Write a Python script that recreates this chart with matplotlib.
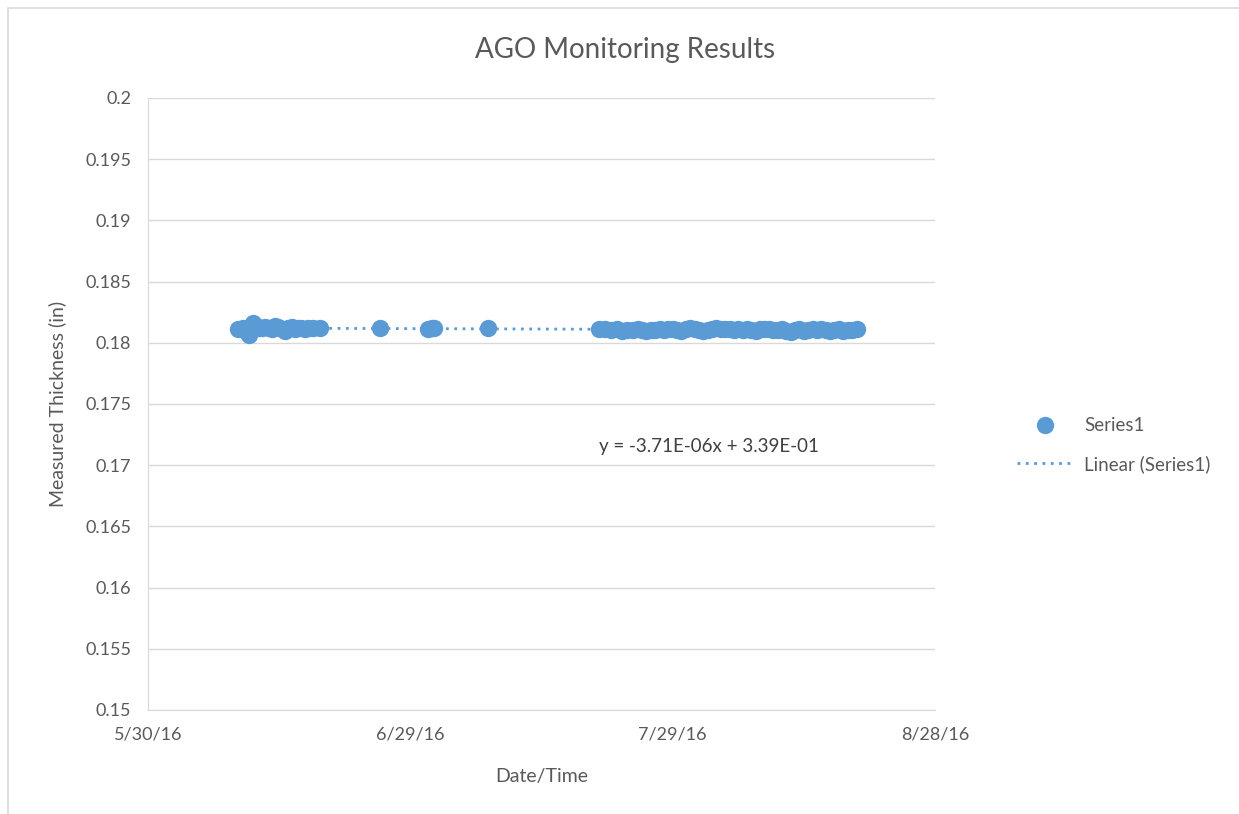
import matplotlib.pyplot as plt
import matplotlib.dates as mdates
import numpy as np
import pandas as pd
from matplotlib.patches import Rectangle

# --- Data ---
dates = [
    "2016-06-09 06:00", "2016-06-09 14:00", "2016-06-09 22:00", "2016-06-10 06:00",
    "2016-06-10 14:00", "2016-06-10 23:00", "2016-06-11 08:00", "2016-06-11 16:00",
    "2016-06-12 01:00", "2016-06-12 10:00", "2016-06-12 19:00", "2016-06-13 04:00",
    "2016-06-13 13:00", "2016-06-13 22:00", "2016-06-14 07:00", "2016-06-14 16:00",
    "2016-06-15 01:00", "2016-06-15 10:00", "2016-06-15 19:00", "2016-06-16 04:00",
    "2016-06-16 13:00", "2016-06-16 22:00", "2016-06-17 08:00", "2016-06-17 20:00",
    "2016-06-18 16:00",
    "2016-06-25 12:00", "2016-07-01 00:00", "2016-07-01 12:00", "2016-07-01 16:00",
    "2016-07-07 20:00",
    "2016-07-20 14:00", "2016-07-21 06:00", "2016-07-21 22:00", "2016-07-22 14:00",
    "2016-07-23 06:00", "2016-07-23 20:00", "2016-07-24 10:00", "2016-07-25 00:00",
    "2016-07-25 12:00", "2016-07-26 00:00", "2016-07-26 12:00", "2016-07-27 00:00",
    "2016-07-27 12:00", "2016-07-28 00:00", "2016-07-28 12:00", "2016-07-29 00:00",
    "2016-07-29 12:00", "2016-07-30 00:00", "2016-07-30 12:00", "2016-07-31 00:00",
    "2016-07-31 12:00", "2016-08-01 00:00", "2016-08-01 12:00", "2016-08-02 00:00",
    "2016-08-02 12:00", "2016-08-03 00:00", "2016-08-03 12:00", "2016-08-04 00:00",
    "2016-08-04 12:00", "2016-08-05 00:00", "2016-08-05 12:00", "2016-08-06 00:00",
    "2016-08-06 12:00", "2016-08-07 00:00", "2016-08-07 12:00", "2016-08-08 00:00",
    "2016-08-08 12:00", "2016-08-09 00:00", "2016-08-09 12:00", "2016-08-10 00:00",
    "2016-08-10 12:00", "2016-08-11 00:00", "2016-08-11 12:00", "2016-08-12 00:00",
    "2016-08-12 12:00", "2016-08-13 00:00", "2016-08-13 12:00", "2016-08-14 00:00",
    "2016-08-14 12:00", "2016-08-15 00:00", "2016-08-15 12:00", "2016-08-16 00:00",
    "2016-08-16 12:00", "2016-08-17 00:00", "2016-08-17 12:00", "2016-08-18 00:00",
    "2016-08-18 12:00", "2016-08-19 02:00",
]
thickness = [
    0.18112, 0.18115, 0.18120, 0.18098, 0.18060, 0.18165, 0.18140, 0.18125,
    0.18118, 0.18130, 0.18122, 0.18115, 0.18140, 0.18128, 0.18110, 0.18100,
    0.18125, 0.18130, 0.18112, 0.18118, 0.18125, 0.18115, 0.18120, 0.18118,
    0.18120,
    0.18122, 0.18110, 0.18125, 0.18120,
    0.18118,
    0.18115, 0.18110, 0.18105, 0.18112, 0.18100, 0.18108, 0.18102, 0.18110,
    0.18105, 0.18100, 0.18108, 0.18102, 0.18110, 0.18105, 0.18112, 0.18115,
    0.18108, 0.18100, 0.18112, 0.18118, 0.18110, 0.18105, 0.18095, 0.18102,
    0.18110, 0.18125, 0.18115, 0.18110, 0.18112, 0.18108, 0.18110, 0.18105,
    0.18112, 0.18108, 0.18100, 0.18110, 0.18115, 0.18112, 0.18108, 0.18105,
    0.18110, 0.18098, 0.18092, 0.18102, 0.18110, 0.18095, 0.18108, 0.18110,
    0.18105, 0.18112, 0.18108, 0.18100, 0.18105, 0.18110, 0.18100, 0.18105,
    0.18108, 0.18110,
]
x_ticks = ["2016-05-30", "2016-06-29", "2016-07-29", "2016-08-28"]
x_tick_labels = ["5/30/16", "6/29/16", "7/29/16", "8/28/16"]
y_ticks = [0.15, 0.155, 0.16, 0.165, 0.17, 0.175, 0.18, 0.185, 0.19, 0.195, 0.2]
y_tick_labels = ["0.15", "0.155", "0.16", "0.165", "0.17", "0.175", "0.18",
                 "0.185", "0.19", "0.195", "0.2"]
trend_label = "y = -3.71E-06x + 3.39E-01"

BLUE = "#5B9BD5"
GREY = "#595959"

plt.rcParams["font.family"] = ["Lato", "DejaVu Sans"]

t = pd.to_datetime(dates)
xnum = mdates.date2num(t)

fig = plt.figure(figsize=(12.39, 8.14), dpi=100)
ax = fig.add_axes([148 / 1239, 104 / 814, 787 / 1239, 612 / 814])

ax.plot(t, thickness, "o", color=BLUE, markersize=12.5, markeredgewidth=0,
        label="Series1", zorder=3)

# linear trendline
slope, icpt = np.polyfit(xnum, thickness, 1)
xl = np.array([xnum.min(), xnum.max()])
ax.plot(mdates.num2date(xl), slope * xl + icpt, linestyle=(0, (1, 2)),
        color=BLUE, linewidth=2, label="Linear (Series1)", zorder=2)

ax.set_xlim(pd.Timestamp(x_ticks[0]), pd.Timestamp(x_ticks[-1]))
ax.set_ylim(y_ticks[0], y_ticks[-1])
ax.set_xticks(pd.to_datetime(x_ticks))
ax.set_xticklabels(x_tick_labels)
ax.set_yticks(y_ticks)
ax.set_yticklabels(y_tick_labels)
ax.tick_params(length=0, labelsize=13, colors=GREY, pad=12)
ax.grid(axis="y", color="#D9D9D9", linewidth=1)
ax.set_axisbelow(True)
for s in ["top", "right"]:
    ax.spines[s].set_visible(False)
for s in ["left", "bottom"]:
    ax.spines[s].set_color("#D9D9D9")

ax.set_xlabel("Date/Time", fontsize=14, color=GREY, labelpad=18)
ax.set_ylabel("Measured Thickness (in)", fontsize=14, color=GREY, labelpad=14)
fig.text(625 / 1239, 1 - 50 / 814, "AGO Monitoring Results", fontsize=20,
         color=GREY, ha="center", va="center")
ax.text(0.573, 0.1715, trend_label, transform=ax.get_yaxis_transform(),
        fontsize=13.5, color="#404040", ha="left", va="center")

fig.legend(loc="center left", bbox_to_anchor=(1000 / 1239, 1 - 445 / 814),
           frameon=False, fontsize=13.5, labelcolor=GREY, handlelength=3,
           handletextpad=0.6, labelspacing=1.1)

# outer chart frame
fig.add_artist(Rectangle((8 / 1239, -0.01), 1.1, 1 - 8 / 814 + 0.01,
                         transform=fig.transFigure, fill=False,
                         edgecolor="#D9D9D9", linewidth=1.2))

fig.savefig("out.png", dpi=100)
